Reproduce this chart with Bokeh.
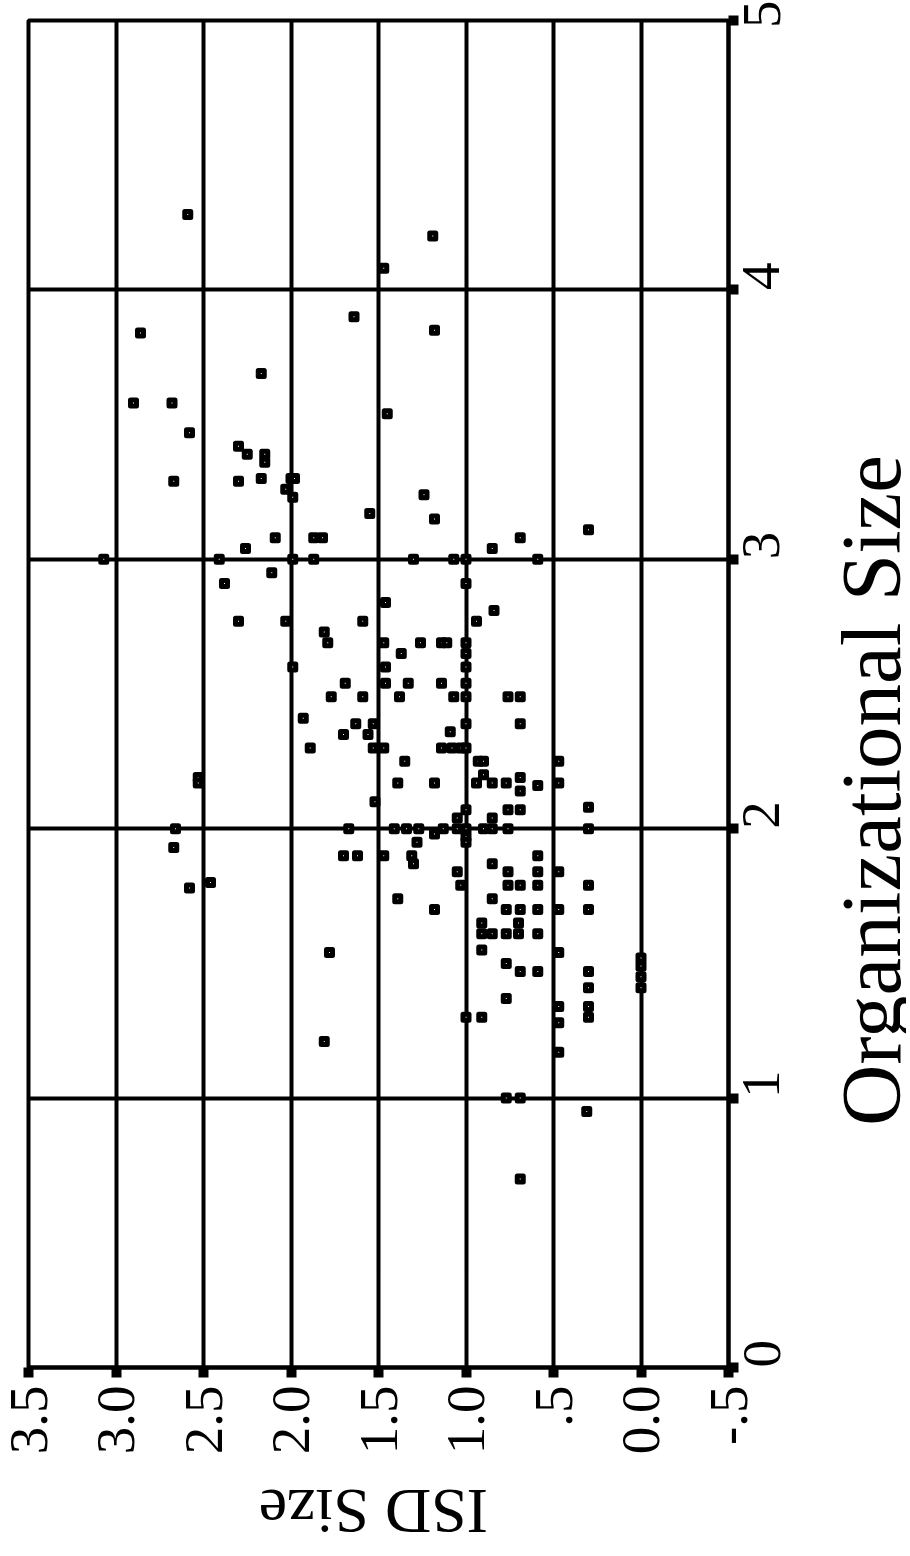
import math
from bokeh.plotting import figure
from bokeh.layouts import row, column
from bokeh.models import Range1d, FixedTicker, ColumnDataSource, Label
from bokeh.embed import file_html
from bokeh.resources import INLINE

# ISD Size (horizontal, reversed) and Organizational Size (vertical)
isd = [2.59, 1.19, 1.47, 1.64, 2.86, 1.18, 2.17, 2.90, 2.68, 1.45,
       2.58, 2.30, 2.25, 2.15, 2.15, 2.67, 2.30, 2.17, 2.00, 1.98,
       2.03, 1.99, 1.24, 1.55, 1.18, 0.30, 2.09, 1.87, 1.82, 0.69,
       2.26, 0.85, 3.07, 2.41, 1.99, 1.87, 1.30, 1.07, 1.00, 0.59,
       2.11, 2.38, 1.00, 1.46, 0.84, 2.30, 2.03, 1.59, 0.94, 1.81,
       1.79, 1.47, 1.26, 1.14, 1.11, 1.00, 1.00, 1.37, 1.99, 1.46,
       1.00, 1.69, 1.46, 1.33, 1.14, 1.00, 1.77, 1.59, 1.38, 1.07,
       1.00, 0.76, 0.69, 1.93, 1.63, 1.53, 1.00, 0.69, 1.70, 1.56,
       1.09, 1.89, 1.53, 1.47, 1.14, 1.08, 1.03, 1.00, 1.35, 0.93,
       0.90, 0.47, 0.90, 0.69, 2.53, 2.53, 1.39, 1.18, 0.94, 0.85,
       0.77, 0.47, 0.59, 0.69, 1.52, 1.00, 0.76, 0.69, 0.30, 1.05,
       0.85, 2.66, 1.67, 1.41, 1.34, 1.27, 1.13, 1.05, 1.00, 0.90,
       0.85, 0.76, 0.30, 1.18, 1.00, 1.28, 1.00, 2.67, 1.70, 1.62,
       1.47, 1.31, 0.59, 1.30, 0.85, 1.05, 0.76, 0.59, 0.47, 2.46,
       1.03, 0.76, 0.69, 0.59, 0.30, 2.58, 1.39, 0.85, 1.18, 0.77,
       0.69, 0.59, 0.47, 0.30, 0.91, 0.70, 0.91, 0.85, 0.77, 0.70,
       0.59, 0.91, 1.78, 0.47, 0.77, 0.00, 0.00, 0.69, 0.59, 0.30,
       0.00, 0.00, 0.30, 0.77, 0.47, 0.30, 0.30, 0.47, 1.00, 0.91,
       1.81, 0.47, 0.77, 0.69, 0.31, 0.69]
org = [4.28, 4.20, 4.08, 3.90, 3.84, 3.85, 3.69, 3.58, 3.58, 3.54,
       3.47, 3.42, 3.39, 3.39, 3.36, 3.29, 3.29, 3.30, 3.30, 3.30,
       3.26, 3.23, 3.24, 3.17, 3.15, 3.11, 3.08, 3.08, 3.08, 3.08,
       3.04, 3.04, 3.00, 3.00, 3.00, 3.00, 3.00, 3.00, 3.00, 3.00,
       2.95, 2.91, 2.91, 2.84, 2.81, 2.77, 2.77, 2.77, 2.77, 2.73,
       2.69, 2.69, 2.69, 2.69, 2.69, 2.69, 2.65, 2.65, 2.60, 2.60,
       2.60, 2.54, 2.54, 2.54, 2.54, 2.54, 2.49, 2.49, 2.49, 2.49,
       2.49, 2.49, 2.49, 2.41, 2.39, 2.39, 2.39, 2.39, 2.35, 2.35,
       2.36, 2.30, 2.30, 2.30, 2.30, 2.30, 2.30, 2.30, 2.25, 2.25,
       2.25, 2.25, 2.20, 2.19, 2.19, 2.17, 2.17, 2.17, 2.17, 2.17,
       2.17, 2.17, 2.16, 2.14, 2.10, 2.07, 2.07, 2.07, 2.08, 2.04,
       2.04, 2.00, 2.00, 2.00, 2.00, 2.00, 2.00, 2.00, 2.00, 2.00,
       2.00, 2.00, 2.00, 1.98, 1.97, 1.95, 1.95, 1.93, 1.90, 1.90,
       1.90, 1.90, 1.90, 1.87, 1.87, 1.84, 1.84, 1.84, 1.84, 1.80,
       1.79, 1.79, 1.79, 1.79, 1.79, 1.78, 1.74, 1.74, 1.70, 1.70,
       1.70, 1.70, 1.70, 1.70, 1.65, 1.65, 1.61, 1.61, 1.61, 1.61,
       1.61, 1.55, 1.54, 1.54, 1.50, 1.52, 1.49, 1.47, 1.47, 1.47,
       1.45, 1.41, 1.41, 1.37, 1.34, 1.34, 1.30, 1.28, 1.30, 1.30,
       1.21, 1.17, 1.00, 1.00, 0.95, 0.70]

isd_ticks = [-0.5, 0.0, 0.5, 1.0, 1.5, 2.0, 2.5, 3.0, 3.5]
isd_tick_labels = ["-.5", "0.0", ".5", "1.0", "1.5", "2.0", "2.5", "3.0", "3.5"]
org_ticks = [0, 1, 2, 3, 4, 5]
org_tick_labels = ["0", "1", "2", "3", "4", "5"]
x_title = "ISD Size"
y_title = "Organizational Size"

FONT = "Liberation Serif"

# ---- main chart -------------------------------------------------------
MAIN_W = 28 + 700 + 100
MAIN_H = 20 + 1347 + 100
p = figure(frame_width=700, frame_height=1347,
           x_range=Range1d(3.5, -0.5), y_range=Range1d(0, 5),
           x_axis_location="below", y_axis_location="right",
           output_backend="svg", toolbar_location=None,
           min_border_left=28, min_border_top=20,
           min_border_right=100, min_border_bottom=100,
           background_fill_color="white", border_fill_color="white")

p.outline_line_color = "black"
p.outline_line_width = 4

xa = p.xaxis[0]
xa.ticker = FixedTicker(ticks=isd_ticks)
xa.major_label_overrides = {t: l for t, l in zip(isd_ticks, isd_tick_labels)}
xa.major_label_orientation = math.pi / 2

ya = p.yaxis[0]
ya.ticker = FixedTicker(ticks=org_ticks)
ya.major_label_overrides = {t: l for t, l in zip(org_ticks, org_tick_labels)}
ya.major_label_orientation = math.pi / 2

for ax in (xa, ya):
    ax.axis_line_color = "black"
    ax.axis_line_width = 4
    ax.major_tick_in = 0
    ax.major_tick_out = 10
    ax.major_tick_line_width = 10
    ax.major_tick_line_color = "black"
    ax.minor_tick_line_color = None
    ax.major_label_text_font = FONT
    ax.major_label_text_font_size = "55px"
    ax.major_label_text_color = "black"
xa.major_label_standoff = 8
ya.major_label_standoff = 23

p.xgrid.grid_line_color = "black"
p.xgrid.grid_line_width = 4
p.ygrid.grid_line_color = "black"
p.ygrid.grid_line_width = 4

src = ColumnDataSource(dict(isd=isd, org=org))
p.scatter(x="isd", y="org", source=src, marker="square", size=6,
          fill_color="white", line_color="black", line_width=5,
          line_join="round")


def title_panel(w, h):
    f = figure(width=w, height=h, x_range=Range1d(0, w), y_range=Range1d(0, h),
               output_backend="svg", toolbar_location=None,
               min_border=0, outline_line_color=None,
               background_fill_color="white", border_fill_color="white")
    f.axis.visible = False
    f.grid.visible = False
    return f


# ---- title under the chart (upside down, as in the turned page) -------
BOT_H = 1548 - MAIN_H
fb = title_panel(MAIN_W, BOT_H)
fb.add_layout(Label(x=408, y=BOT_H - 44, text=x_title, angle=math.pi,
                    text_align="center", text_baseline="middle",
                    text_font=FONT, text_font_size="64px",
                    text_color="black"))

# ---- title at the right (reads bottom to top) -------------------------
RIGHT_W = 906 - MAIN_W
fr = title_panel(RIGHT_W, 1548)
fr.add_layout(Label(x=870 - MAIN_W, y=1548 - 790, text=y_title,
                    angle=math.pi / 2,
                    text_align="center", text_baseline="middle",
                    text_font=FONT, text_font_size="85px",
                    text_color="black"))

layout = row(column(p, fb), fr)
open("out.html", "w").write(file_html(layout, INLINE))
